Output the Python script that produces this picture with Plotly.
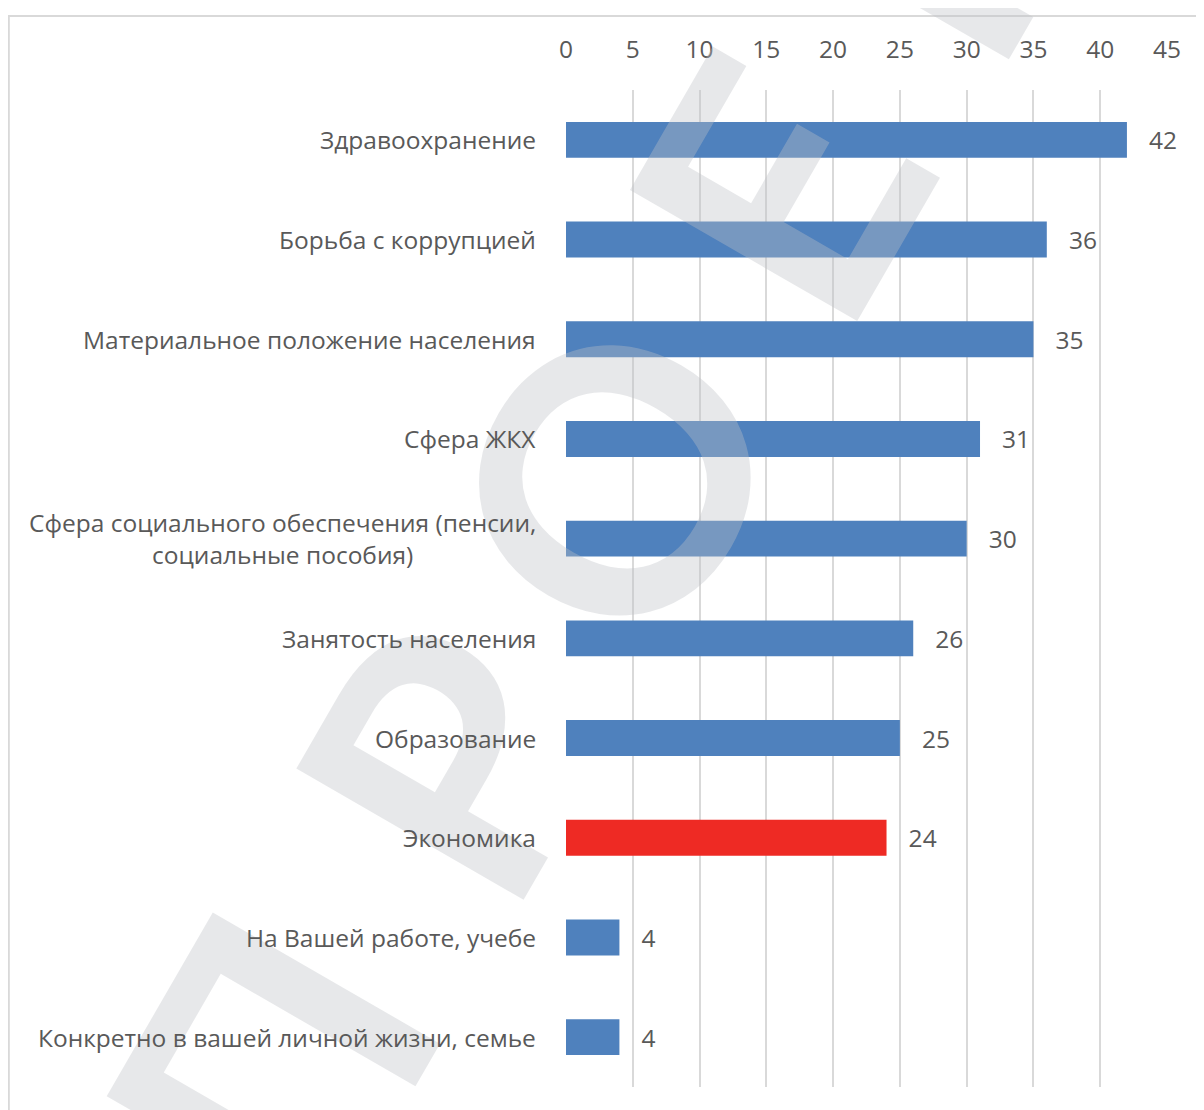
import math

import plotly.graph_objects as go

# данные
categories = [
    "Здравоохранение",
    "Борьба с коррупцией",
    "Материальное положение населения",
    "Сфера ЖКХ",
    "Сфера социального обеспечения (пенсии,<br>социальные пособия)",
    "Занятость населения",
    "Образование",
    "Экономика",
    "На Вашей работе, учебе",
    "Конкретно в вашей личной жизни, семье",
]
values = [42, 36, 35, 31, 30, 26, 25, 24, 4, 4]
highlight = "Экономика"
x_ticks = [0, 5, 10, 15, 20, 25, 30, 35, 40, 45]

# водяной знак: буквы и их смещение вдоль строки (px) от центра "О"
wm_letters = ["П", "Р", "О", "Е", "К", "Т"]
wm_offsets = [-680, -325, 0, 335, 660, 1007]

BLUE = "#4F81BD"
RED = "#EE2A24"
TXT = "#595959"
GRID = "#D9D9D9"
FONT = "Open Sans"
FS = 24.5

PAGE = 8  # отступ body у страницы
W, H = 1196, 1102
L, T = 558, 82
PW, PH = 601, 997
R, B = W - L - PW, H - T - PH


def px_x(px):
    return (px - PAGE - L) / PW


def px_y(py):
    return (H - B - (py - PAGE)) / PH


colors = [RED if c == highlight else BLUE for c in categories]

fig = go.Figure()
fig.add_trace(go.Bar(
    x=values,
    y=categories,
    orientation="h",
    marker=dict(color=colors, line=dict(width=0)),
    texttemplate="\u00a0\u00a0\u00a0%{x}",
    textposition="outside",
    textfont=dict(family=FONT, size=FS, color=TXT),
    cliponaxis=False,
    constraintext="none",
    hoverinfo="skip",
))

# рамка диаграммы
fig.add_shape(
    type="rect", xref="paper", yref="paper",
    x0=px_x(PAGE + 0.8), x1=px_x(W + 40), y0=px_y(H + 40), y1=px_y(16),
    line=dict(color=GRID, width=2), fillcolor="rgba(0,0,0,0)", layer="below",
)

# водяной знак "ПРОЕКТ"
ang = math.radians(60)
cx, cy = 606, 476
for ch, d in zip(wm_letters, wm_offsets):
    fig.add_annotation(
        text=ch, xref="paper", yref="paper",
        x=px_x(cx + d * math.cos(ang)), y=px_y(cy - d * math.sin(ang)),
        xanchor="center", yanchor="middle",
        showarrow=False, textangle=-60,
        font=dict(family="Lato", size=363, color="rgba(190,192,197,0.37)", weight="bold"),
    )

# подписи категорий
for c in categories:
    fig.add_annotation(
        text=c, xref="paper", yref="y", x=px_x(538), y=c,
        xanchor="right", yanchor="middle", align="center", showarrow=False,
        font=dict(family=FONT, size=FS, color=TXT),
    )

fig.update_layout(
    width=W, height=H,
    margin=dict(l=L, r=R, t=T, b=B),
    paper_bgcolor="white", plot_bgcolor="white",
    bargap=0.64,
    showlegend=False,
    xaxis=dict(
        side="top", range=[0, 45], tickvals=x_ticks,
        showgrid=True, gridcolor=GRID, gridwidth=2,
        zeroline=False, showline=False, ticks="",
        ticklabelstandoff=26,
        tickfont=dict(family=FONT, size=FS, color=TXT),
        fixedrange=True,
    ),
    yaxis=dict(
        autorange="reversed", showticklabels=False, showgrid=False,
        zeroline=False, showline=False, ticks="", fixedrange=True,
    ),
)

fig.write_html("out.html")
